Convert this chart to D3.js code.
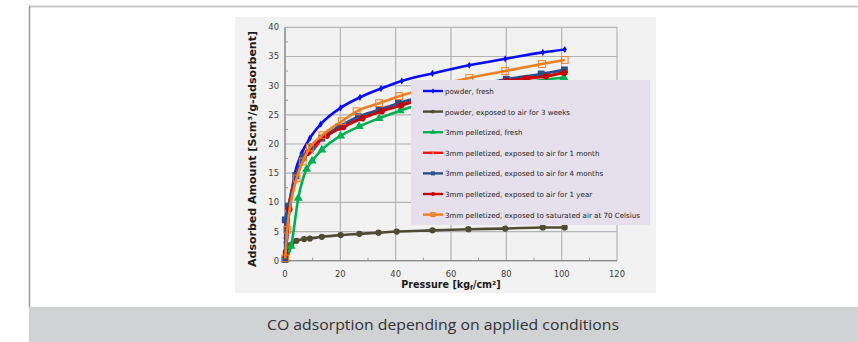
<!DOCTYPE html>
<html>
<head>
<meta charset="utf-8">
<script src="https://cdn.jsdelivr.net/npm/d3@7"></script>
<style>
  body { margin: 0; background: #fff; }
  svg { display: block; }
</style>
</head>
<body>
<div id="chart"></div>
<script>
// series names (legend order)
var seriesNames = [
  "powder, fresh",
  "powder, exposed to air for 3 weeks",
  "3mm pelletized, fresh",
  "3mm pelletized, exposed to air for 1 month",
  "3mm pelletized, exposed to air for 4 months",
  "3mm pelletized, exposed to air for 1 year",
  "3mm pelletized, exposed to saturated air at 70 Celsius"
];

// pressure values (x) and adsorbed amount (y) per series
var powderFreshX = [0.2, 0.6, 1.5, 3.5, 6, 9, 12.9, 20.1, 27.1, 34.7, 42.2, 53.3, 66.6, 79.6, 93.2, 101.1];
var powderFreshY = [0.5, 3.0, 8.5, 14.8, 18.4, 21.0, 23.4, 26.2, 28.0, 29.5, 30.8, 32.1, 33.5, 34.6, 35.7, 36.2];

var powder3wX = [0.3, 2.2, 4.1, 6.9, 9, 13.3, 20.1, 26.9, 33.8, 40.4, 53.3, 66.3, 79.6, 93.2, 101.1];
var powder3wY = [1.5, 2.7, 3.4, 3.7, 3.8, 4.1, 4.4, 4.6, 4.8, 5.0, 5.2, 5.4, 5.5, 5.7, 5.7];

var pelletFreshX = [0.3, 2.2, 4.8, 7.8, 9.8, 13.3, 20.1, 26.8, 34.0, 41.6, 53.3, 66.6, 79.6, 93.5, 100.8];
var pelletFreshY = [0.3, 2.5, 10.7, 15.7, 17.1, 19.0, 21.4, 23.0, 24.4, 25.7, 27.4, 28.8, 30.0, 31.0, 31.4];

var pellet1mX = [0.3, 1.2, 3.9, 6.8, 9.7, 13.5, 20.3, 27, 34, 41, 53, 66, 80, 88, 94, 101];
var pellet1mY = [3.5, 8.7, 14.4, 17.6, 18.7, 21.0, 23.0, 24.6, 25.9, 26.9, 28.4, 29.7, 30.8, 31.2, 31.6, 32.4];

var pellet4mX = [0.02, 0.1, 1.2, 3.9, 6.6, 9.7, 13.3, 19.3, 26.5, 34, 41, 53, 66.5, 80, 92.6, 101];
var pellet4mY = [0.2, 7.0, 9.3, 14.6, 17.8, 19.5, 21.0, 22.9, 24.7, 25.8, 27.0, 28.5, 29.8, 31.1, 32.0, 32.7];

var pellet1yX = [0.3, 1.6, 8.2, 15.1, 21.1, 28, 35, 42, 55, 68, 80, 87.5, 94.4, 101];
var pellet1yY = [1.0, 8.8, 18.5, 21.4, 22.9, 24.4, 25.6, 26.6, 28.3, 29.7, 30.8, 31.3, 31.6, 32.2];

var pelletSatX = [0.1, 0.8, 4.2, 6.4, 9, 13.5, 20.5, 25.9, 34, 41.3, 53.5, 66.6, 79.6, 92.9, 101.1];
var pelletSatY = [0.4, 5.3, 14.1, 17.0, 19.4, 21.5, 23.9, 25.6, 27.0, 28.2, 29.8, 31.3, 32.5, 33.7, 34.4];

var xTicks = [0, 20, 40, 60, 80, 100, 120];
var yTicks = [0, 5, 10, 15, 20, 25, 30, 35, 40];

var allX = [powderFreshX, powder3wX, pelletFreshX, pellet1mX, pellet4mX, pellet1yX, pelletSatX];
var allY = [powderFreshY, powder3wY, pelletFreshY, pellet1mY, pellet4mY, pellet1yY, pelletSatY];
var colors = ["#0a0aff", "#4e4a34", "#00b050", "#ff1010", "#2a4f8c", "#c80000", "#f07f22"];
var markers = ["diamond", "circle", "triangle", "cross", "square", "circle", "hollow"];

var width = 858, height = 342;

var svg = d3.select("#chart").append("svg")
    .attr("width", width)
    .attr("height", height);

// page frame
svg.append("line").attr("x1", 29).attr("x2", 858).attr("y1", 6.5).attr("y2", 6.5)
    .attr("stroke", "#c8c8c8").attr("stroke-width", 2);
svg.append("line").attr("x1", 29.5).attr("x2", 29.5).attr("y1", 6).attr("y2", 307)
    .attr("stroke", "#9a9a9a").attr("stroke-width", 1.5);

// caption bar
svg.append("rect").attr("x", 29).attr("y", 307).attr("width", 829).attr("height", 35)
    .attr("fill", "#d1d2d4");
svg.append("text")
    .attr("x", 443).attr("y", 330)
    .attr("text-anchor", "middle")
    .attr("textLength", 352).attr("lengthAdjust", "spacingAndGlyphs")
    .style("font-family", "'Open Sans', 'Noto Sans', sans-serif")
    .style("font-size", "15px")
    .style("fill", "#333")
    .text("CO adsorption depending on applied conditions");

// chart panel
svg.append("rect").attr("x", 235).attr("y", 17).attr("width", 421).attr("height", 276)
    .attr("fill", "#f2f2f2");

var x = d3.scaleLinear().domain([0, 120]).range([285, 617]);
var y = d3.scaleLinear().domain([0, 40]).range([260.7, 27.3]);

var g = svg.append("g");

// gridlines
g.selectAll(".vgrid").data(xTicks).enter().append("line")
    .attr("x1", function(d) { return x(d); }).attr("x2", function(d) { return x(d); })
    .attr("y1", y(0)).attr("y2", y(40))
    .attr("stroke", "#b4b4b4").attr("stroke-width", 1.2);
g.selectAll(".hgrid").data(yTicks).enter().append("line")
    .attr("x1", x(0)).attr("x2", x(120))
    .attr("y1", function(d) { return y(d); }).attr("y2", function(d) { return y(d); })
    .attr("stroke", "#b4b4b4").attr("stroke-width", 1.2);

// minor ticks
var xMinor = d3.range(10, 120, 20);
var yMinor = d3.range(2.5, 40, 5);
g.selectAll(".xminor").data(xMinor).enter().append("line")
    .attr("x1", function(d) { return x(d); }).attr("x2", function(d) { return x(d); })
    .attr("y1", y(0)).attr("y2", y(0) - 3)
    .attr("stroke", "#999");
g.selectAll(".yminor").data(yMinor).enter().append("line")
    .attr("x1", x(0)).attr("x2", x(0) + 3)
    .attr("y1", function(d) { return y(d); }).attr("y2", function(d) { return y(d); })
    .attr("stroke", "#999");

// axis lines
g.append("line").attr("x1", x(0)).attr("x2", x(0)).attr("y1", y(0)).attr("y2", y(40))
    .attr("stroke", "#8c8c8c").attr("stroke-width", 1.3);
g.append("line").attr("x1", x(0)).attr("x2", x(120)).attr("y1", y(0)).attr("y2", y(0))
    .attr("stroke", "#8c8c8c").attr("stroke-width", 1.3);

// tick labels
g.selectAll(".xlab").data(xTicks).enter().append("text")
    .attr("x", function(d) { return x(d); })
    .attr("y", 277)
    .attr("text-anchor", "middle")
    .style("font-family", "'DejaVu Sans', sans-serif")
    .style("font-size", "8.4px")
    .style("fill", "#404040")
    .text(function(d) { return d; });
g.selectAll(".ylab").data(yTicks).enter().append("text")
    .attr("x", 279)
    .attr("y", function(d) { return y(d) + 3; })
    .attr("text-anchor", "end")
    .style("font-family", "'DejaVu Sans', sans-serif")
    .style("font-size", "8.4px")
    .style("fill", "#404040")
    .text(function(d) { return d; });

// axis titles
var xt = svg.append("text")
    .attr("x", 451).attr("y", 288)
    .attr("text-anchor", "middle")
    .style("font-family", "'DejaVu Sans', sans-serif")
    .style("font-weight", "bold")
    .style("font-size", "9.6px")
    .style("fill", "#1a1a1a");
xt.append("tspan").text("Pressure [kg");
xt.append("tspan").attr("dy", 2).style("font-size", "6.5px").text("f");
xt.append("tspan").attr("dy", -2).text("/cm²]");

svg.append("text")
    .attr("transform", "translate(256,149) rotate(-90)")
    .attr("text-anchor", "middle")
    .attr("textLength", 236).attr("lengthAdjust", "spacingAndGlyphs")
    .style("font-family", "'DejaVu Sans', sans-serif")
    .style("font-weight", "bold")
    .style("font-size", "10.5px")
    .style("fill", "#1a1a1a")
    .text("Adsorbed Amount [Scm³/g-adsorbent]");

// marker drawing
function drawMarker(sel, type, color, size) {
    var s = size;
    if (type === "circle") {
        sel.append("circle").attr("r", s * 0.95).attr("fill", color);
    } else if (type === "square") {
        sel.append("rect").attr("x", -s).attr("y", -s).attr("width", 2 * s).attr("height", 2 * s).attr("fill", color);
    } else if (type === "hollow") {
        sel.append("rect").attr("x", -s).attr("y", -s).attr("width", 2 * s).attr("height", 2 * s)
            .attr("fill", "none").attr("stroke", color).attr("stroke-width", 1);
    } else if (type === "triangle") {
        sel.append("path").attr("d", d3.symbol(d3.symbolTriangle, s * s * 3.2)()).attr("fill", color);
    } else if (type === "diamond") {
        sel.append("path").attr("d", d3.symbol(d3.symbolDiamond, s * s * 2.2)()).attr("fill", color);
    } else if (type === "cross") {
        sel.append("path").attr("d", d3.symbol(d3.symbolTimes, s * s * 2.5)())
            .attr("fill", "none").attr("stroke", "#ff6a6a").attr("stroke-width", 1);
    }
}

var line = d3.line()
    .x(function(d) { return x(d[0]); })
    .y(function(d) { return y(d[1]); })
    .curve(d3.curveMonotoneX);

var series = seriesNames.map(function(name, i) {
    return { name: name, color: colors[i], marker: markers[i],
             values: allX[i].map(function(v, j) { return [v, allY[i][j]]; }) };
});

var sizes = { diamond: 2.6, circle: 3.3, triangle: 3.3, cross: 3, square: 3.4, hollow: 3.4 };

var sg = svg.append("g").selectAll("g").data(series).enter().append("g");
sg.append("path")
    .attr("d", function(d) { return line(d.values); })
    .attr("fill", "none")
    .attr("stroke", function(d) { return d.color; })
    .attr("stroke-width", 2.6);
sg.each(function(d) {
    var grp = d3.select(this);
    grp.selectAll(".pt").data(d.values).enter().append("g")
        .attr("transform", function(p) { return "translate(" + x(p[0]) + "," + y(p[1]) + ")"; })
        .each(function() { drawMarker(d3.select(this), d.marker, d.color, sizes[d.marker]); });
});

// legend
var lg = svg.append("g");
lg.append("rect").attr("x", 411).attr("y", 80).attr("width", 239).attr("height", 145)
    .attr("fill", "#e5e0ec");
var items = lg.selectAll(".item").data(series).enter().append("g")
    .attr("transform", function(d, i) { return "translate(0," + (91 + i * 20.6) + ")"; });
items.append("line").attr("x1", 423).attr("x2", 443).attr("y1", 0).attr("y2", 0)
    .attr("stroke", function(d) { return d.color; }).attr("stroke-width", 2.4);
items.append("g").attr("transform", "translate(433,0)")
    .each(function(d) { drawMarker(d3.select(this), d.marker, d.color, 2); });
items.append("text")
    .attr("x", 445).attr("y", 3)
    .style("font-family", "'DejaVu Sans', sans-serif")
    .style("font-size", "7.1px")
    .style("fill", "#1a1a1a")
    .text(function(d) { return d.name; });
</script>
</body>
</html>
